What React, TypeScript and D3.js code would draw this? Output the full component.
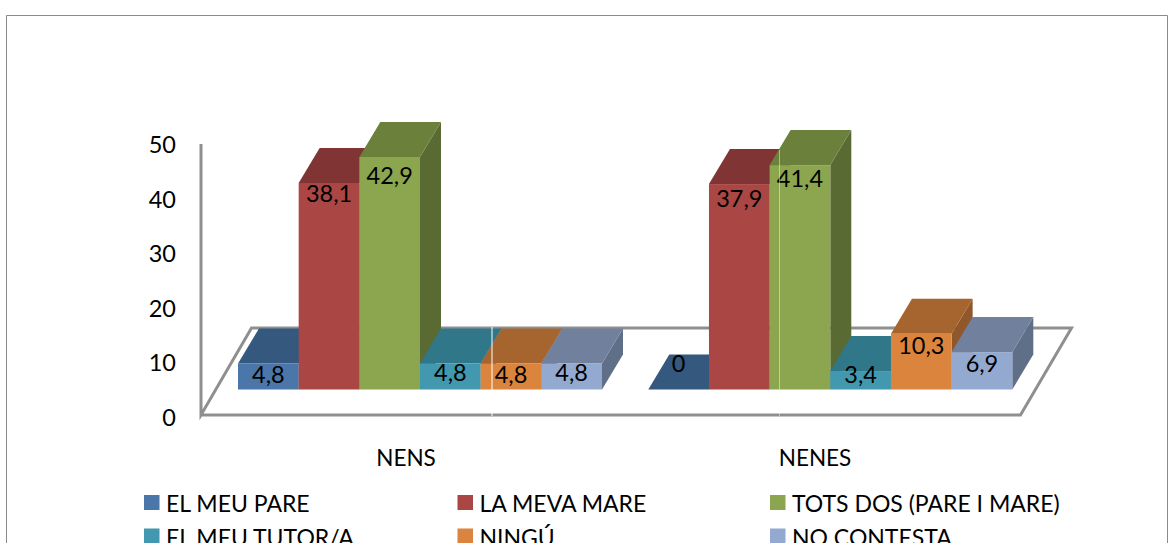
import React from "react";
import * as d3 from "d3";

const categories = ["NENS", "NENES"];
const seriesNames = ["EL MEU PARE", "LA MEVA MARE", "TOTS DOS (PARE I MARE)", "EL MEU TUTOR/A", "NINGÚ", "NO CONTESTA"];
const nens = [4.8, 38.1, 42.9, 4.8, 4.8, 4.8];
const nenes = [0, 37.9, 41.4, 3.4, 10.3, 6.9];
const yTicks = [0, 10, 20, 30, 40, 50];
const frontColors = ["#4a76a9", "#aa4643", "#8ba64f", "#4198af", "#db843d", "#93a9cf"];
const topColors = ["#35587e", "#803433", "#6a803b", "#31778a", "#a6652e", "#71809c"];
const sideColors = ["#2f4f74", "#743030", "#5a6a33", "#2b6a7c", "#8f572a", "#5f6f88"];

// label centre-line offsets from each bar's front-top edge
const labelNudgeNens = [11, 10, 18, 9, 11, 9];
const labelNudgeNenes = [-27, 14, 13, 3, 11, 11];

const FONT = "Lato, sans-serif";
const AXIS = "#8f8f8f";
const dx = 21;
const dy = -35;

const y = d3.scaleLinear().domain([0, 50]).range([389.5, 118.5]);
const axisY = d3.scaleLinear().domain([0, 50]).range([417, 144]);
const groupStart = d3.scalePoint<string>().domain(categories).range([238, 648.3]);
const barX = d3.scaleBand<number>().domain(d3.range(6)).range([0, 364]);

function Bar({ x, w, v, i, nudge }: { x: number; w: number; v: number; i: number; nudge: number }) {
  const top = y(v);
  const base = y(0);
  const hasFront = v > 0;
  const label = v === 0 ? "0" : d3.format(".1f")(v).replace(".", ",");
  return (
    <g>
      {hasFront && (
        <polygon
          points={`${x + w},${base} ${x + w + dx},${base + dy} ${x + w + dx},${top + dy} ${x + w},${top}`}
          fill={sideColors[i]}
        />
      )}
      <polygon
        points={`${x},${top} ${x + dx},${top + dy} ${x + w + dx},${top + dy} ${x + w},${top}`}
        fill={topColors[i]}
      />
      {hasFront && <rect x={x} y={top} width={w} height={base - top} fill={frontColors[i]} />}
      <text
        x={x + w / 2}
        y={top + nudge}
        dominantBaseline="central"
        textAnchor="middle"
        fontFamily={FONT}
        fontSize={23.5}
        fill="#000"
      >
        {label}
      </text>
    </g>
  );
}

export default function App() {
  const w = barX.bandwidth();
  const rows = [nens, nenes];
  const nudges = [labelNudgeNens, labelNudgeNenes];
  const legendX = [144, 457.5, 770];
  const legendY = [495, 528.5];
  return (
    <svg width={1173} height={543} style={{ position: "absolute", left: 0, top: 0, background: "#fff" }}>
      <path d="M6.5,543 V15.5 H1167.5 V543" fill="none" stroke="#8a8a8a" strokeWidth={1} />
      <path
        d="M201,144 V415 L251.5,328 H1071.5 L1020.5,415 H201"
        fill="none"
        stroke={AXIS}
        strokeWidth={3}
      />
      {yTicks.map((t) => (
        <text
          key={t}
          x={176}
          y={axisY(t)}
          dominantBaseline="central"
          textAnchor="end"
          fontFamily={FONT}
          fontSize={23.5}
        >
          {t}
        </text>
      ))}
      {categories.map((c, ci) => (
        <g key={c}>
          {rows[ci].map((v, i) => (
            <Bar key={i} x={groupStart(c)! + barX(i)!} w={w} v={v} i={i} nudge={nudges[ci][i]} />
          ))}
          <text
            x={ci === 0 ? 406 : 815}
            y={457}
            dominantBaseline="central"
            textAnchor="middle"
            fontFamily={FONT}
            fontSize={22.5}
          >
            {c}
          </text>
        </g>
      ))}
      <line x1={492} x2={492} y1={327} y2={416} stroke="#fff" strokeWidth={1} />
      <line x1={779.5} x2={779.5} y1={150} y2={416} stroke="#fff" strokeOpacity={0.45} strokeWidth={1} />
      {seriesNames.map((s, i) => {
        const col = i % 3;
        const row = Math.floor(i / 3);
        return (
          <g key={s}>
            <rect x={legendX[col]} y={legendY[row]} width={15.5} height={15} fill={frontColors[i]} />
            <text
              x={legendX[col] + 22}
              y={legendY[row] + 8}
              dominantBaseline="central"
              fontFamily={FONT}
              fontSize={23}
            >
              {s}
            </text>
          </g>
        );
      })}
    </svg>
  );
}
